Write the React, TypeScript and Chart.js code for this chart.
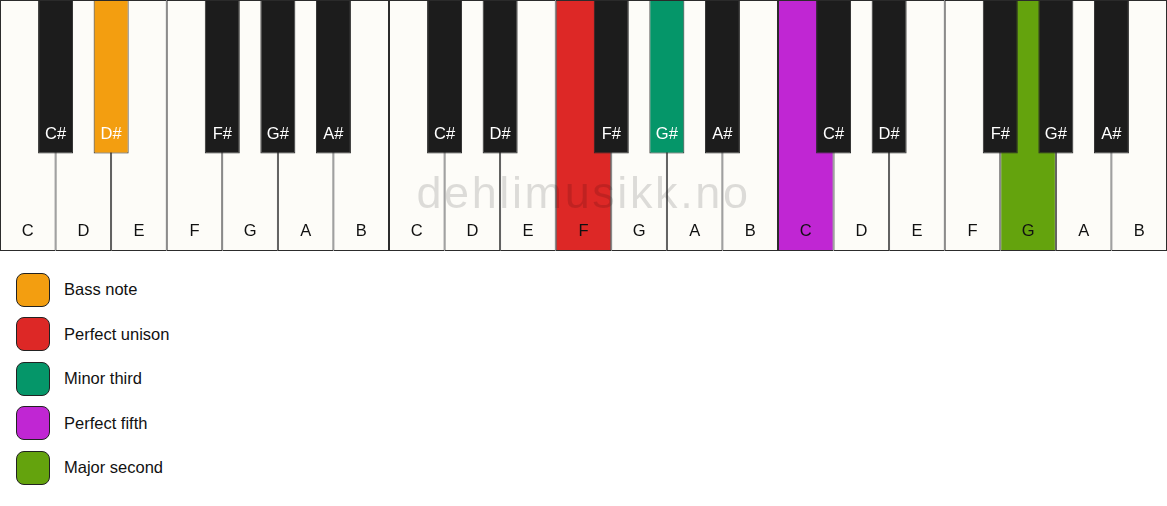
import { useEffect, useRef } from "react";
import { Chart, registerables } from "chart.js";

Chart.register(...registerables);

// keyboard: three octaves
const WHITE_NOTES = ["C", "D", "E", "F", "G", "A", "B", "C", "D", "E", "F", "G", "A", "B", "C", "D", "E", "F", "G", "A", "B"];
const BLACK_NOTES = ["C#", "D#", "F#", "G#", "A#", "C#", "D#", "F#", "G#", "A#", "C#", "D#", "F#", "G#", "A#"];
// index of the white key (in its octave) that each black key follows
const BLACK_AFTER = [0, 1, 3, 4, 5];

// highlighted keys: key index -> colour
const WHITE_HIGHLIGHTS: Record<number, string> = { 10: "#dd2826", 14: "#c026d3", 18: "#64a30d" };
const BLACK_HIGHLIGHTS: Record<number, string> = { 1: "#f39e10", 8: "#059669" };

const LEGEND_LABELS = ["Bass note", "Perfect unison", "Minor third", "Perfect fifth", "Major second"];
const LEGEND_COLORS = ["#f39e10", "#dd2826", "#059669", "#c026d3", "#64a30d"];

const WATERMARK = "dehlimusikk.no";

const WHITE_FILL = "#fdfcf8";
const BLACK_FILL = "#1c1c1c";
const EDGE = "#2c2c2c";
const FONT = "'Liberation Sans', Arial, sans-serif";

// vertical layout in key-length units (0 = bottom, 1 = top)
const BLACK_BOTTOM = 0.388;
const WHITE_LABEL_Y = 0.076;
const BLACK_LABEL_Y = 0.465;
const WATERMARK_Y = 0.172;

const whiteData = WHITE_NOTES.map((_, i) => ({ x: i + 0.5, y: [0, 1] }));
const blackData = BLACK_NOTES.map((_, i) => ({
  x: Math.floor(i / 5) * 7 + BLACK_AFTER[i % 5] + 1,
  y: [BLACK_BOTTOM, 1],
}));

const keyLabels = {
  id: "keyLabels",
  afterDatasetsDraw(chart: Chart) {
    const { ctx, scales } = chart;
    const x = scales.x;
    const y = scales.y;
    ctx.save();
    ctx.font = `16.5px ${FONT}`;
    ctx.textAlign = "center";
    ctx.textBaseline = "middle";
    ctx.fillStyle = "#111";
    whiteData.forEach((d, i) => {
      ctx.fillText(WHITE_NOTES[i], x.getPixelForValue(d.x), y.getPixelForValue(WHITE_LABEL_Y));
    });
    ctx.fillStyle = "#ffffff";
    blackData.forEach((d, i) => {
      ctx.fillText(BLACK_NOTES[i], x.getPixelForValue(d.x), y.getPixelForValue(BLACK_LABEL_Y));
    });
    // watermark
    ctx.font = `45px ${FONT}`;
    (ctx as any).letterSpacing = "2.6px";
    ctx.textBaseline = "alphabetic";
    ctx.fillStyle = "rgba(0,0,0,0.13)";
    ctx.fillText(WATERMARK, x.getPixelForValue(WHITE_NOTES.length / 2), y.getPixelForValue(WATERMARK_Y));
    ctx.restore();
  },
};

const Keyboard = () => {
  const canvasRef = useRef<HTMLCanvasElement>(null);

  useEffect(() => {
    if (!canvasRef.current) return;
    // both key rows share one x axis; the bar ruler is half a white key,
    // so white keys use 2 of it and black keys ~1.26
    const chart = new Chart(canvasRef.current, {
      type: "bar",
      data: {
        datasets: [
          {
            label: "white",
            data: whiteData as any,
            backgroundColor: WHITE_NOTES.map((_, i) => WHITE_HIGHLIGHTS[i] ?? WHITE_FILL),
            borderColor: EDGE,
            borderWidth: 1,
            borderSkipped: false,
            grouped: false,
            barPercentage: 2,
            categoryPercentage: 1,
            order: 2,
          },
          {
            label: "black",
            data: blackData as any,
            backgroundColor: BLACK_NOTES.map((_, i) => BLACK_HIGHLIGHTS[i] ?? BLACK_FILL),
            borderColor: "#2a2a2a",
            borderWidth: 1,
            borderSkipped: false,
            grouped: false,
            barPercentage: 1.26,
            categoryPercentage: 1,
            order: 1,
          },
        ],
      },
      options: {
        responsive: false,
        animation: false,
        layout: { padding: 0 },
        plugins: { legend: { display: false }, tooltip: { enabled: false } },
        scales: {
          x: { type: "linear", min: 0, max: WHITE_NOTES.length, offset: false, display: false, ticks: { stepSize: 3 } },
          y: { min: 0, max: 1, display: false },
        },
      },
      plugins: [keyLabels],
    });
    return () => chart.destroy();
  }, []);

  return <canvas ref={canvasRef} width={1167} height={251} style={{ display: "block" }}></canvas>;
};

const App = () => {
  useEffect(() => {
    document.body.style.margin = "0";
    document.body.style.background = "#ffffff";
  }, []);

  return (
    <div style={{ width: 1167, height: 506, position: "relative", fontFamily: FONT }}>
      <Keyboard></Keyboard>
      <div style={{ paddingTop: 21.5, paddingLeft: 16 }}>
        {LEGEND_LABELS.map((label, i) => (
          <div key={label} style={{ display: "flex", alignItems: "center", height: 34, marginBottom: 10.5 }}>
            <div
              style={{
                width: 34,
                height: 34,
                boxSizing: "border-box",
                border: "1.5px solid #222",
                borderRadius: 8,
                background: LEGEND_COLORS[i],
              }}
            ></div>
            <span style={{ marginLeft: 14, fontSize: 16.5, color: "#111" }}>{label}</span>
          </div>
        ))}
      </div>
    </div>
  );
};

export default App;
